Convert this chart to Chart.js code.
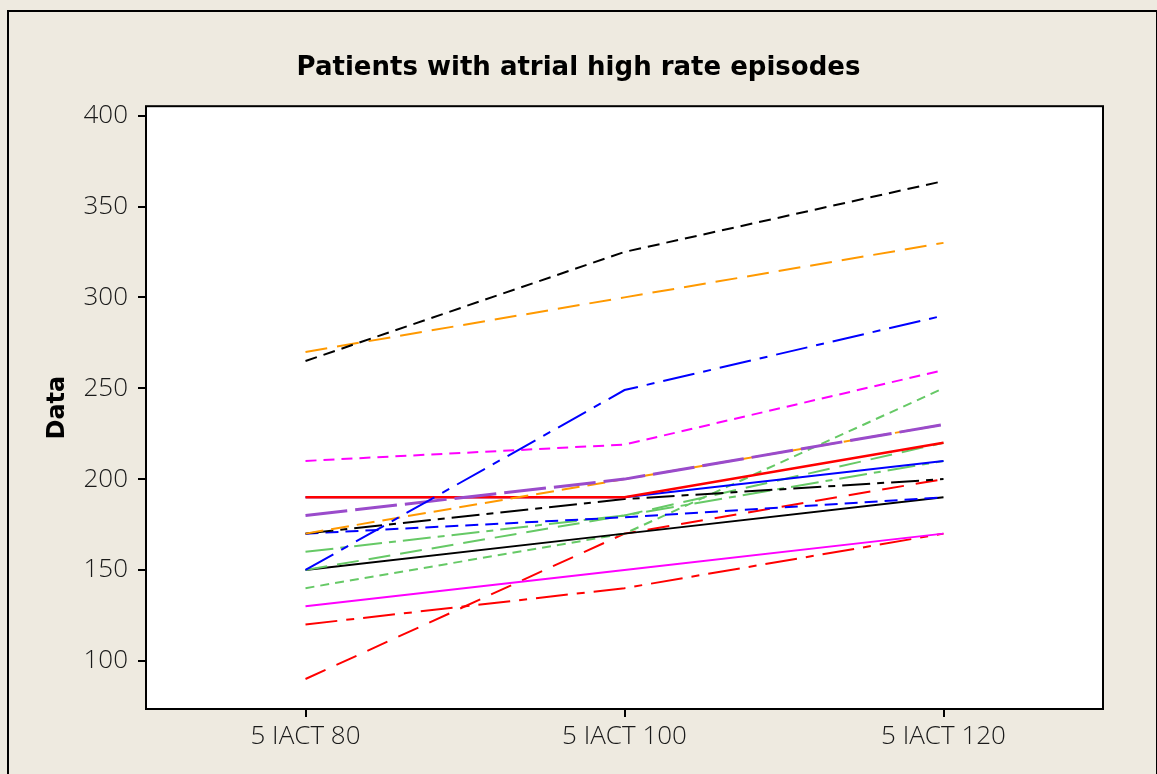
<!DOCTYPE html>
<html lang="en">
<head>
  <meta charset="UTF-8">
  <title>Patients with atrial high rate episodes</title>
  <script src="https://cdn.jsdelivr.net/npm/chart.js"></script>
  <style>
    html, body {
      margin: 0;
      padding: 0;
      background: #eeeae0;
      overflow: hidden;
    }
    .chart-box {
      position: relative;
      width: 1157px;
      height: 774px;
    }
  </style>
</head>
<body>
  <div class="chart-box">
    <canvas id="chart"></canvas>
  </div>

  <script>
    // Categories and tick values
    const categories = ["5 IACT 80", "5 IACT 100", "5 IACT 120"];
    const yTicks = [100, 150, 200, 250, 300, 350, 400];

    // One array per patient line
    const blackShortDash = [265, 325, 364];
    const orangeLongDash = [270, 300, 330];
    const blueDashDot = [150, 249, 290];
    const magentaDash = [210, 219, 260];
    const purpleLongDash = [180, 200, 230];
    const orangeDash = [170, 200, 230];
    const redSolid = [190, 190, 220];
    const blueSolid = [190, 190, 210];
    const blackDashDot = [170, 189, 200];
    const blueDash = [170, 179, 190];
    const greenDashDot = [160, 180, 210];
    const greenLongDash = [150, 180, 220];
    const blackSolid = [150, 170, 190];
    const greenShortDash = [140, 170, 250];
    const magentaSolid = [130, 150, 170];
    const redDashDot = [120, 140, 170];
    const redLongDash = [90, 170, 200];

    function line(data, color, dash, width) {
      return {
        data: data,
        borderColor: color,
        borderDash: dash,
        borderWidth: width || 2,
        pointRadius: 0,
        fill: false,
        tension: 0
      };
    }

    // first dataset is painted on top
    const datasets = [
      line(blackShortDash, "#000000", [12, 7]),
      line(orangeLongDash, "#ff9900", [22, 10]),
      line(blueDashDot, "#0000ff", [32, 9, 8, 9]),
      line(magentaDash, "#ff00ff", [11, 7]),
      line(purpleLongDash, "#9a4bcb", [42, 8], 3),
      line(orangeDash, "#ff9900", [18, 8]),
      line(redSolid, "#ff0000", [], 2.5),
      line(blueSolid, "#0000ff", []),
      line(blackDashDot, "#000000", [28, 7, 7, 7]),
      line(blueDash, "#0000ff", [13, 7]),
      line(greenDashDot, "#66c966", [28, 7, 7, 7]),
      line(greenLongDash, "#66c966", [22, 10]),
      line(blackSolid, "#000000", []),
      line(greenShortDash, "#66c966", [9, 6]),
      line(magentaSolid, "#ff00ff", []),
      line(redDashDot, "#ff0000", [32, 9, 8, 9]),
      line(redLongDash, "#ff0000", [22, 12])
    ];

    // Beige page, outer frame and white plot box with border
    const framePlugin = {
      id: "frame",
      beforeDraw(chart) {
        const ctx = chart.ctx;
        const a = chart.chartArea;
        ctx.save();
        ctx.fillStyle = "#eeeae0";
        ctx.fillRect(0, 0, chart.width, chart.height);
        ctx.strokeStyle = "#000000";
        ctx.lineWidth = 2;
        ctx.strokeRect(8, 11, chart.width - 8, chart.height + 20);
        ctx.fillStyle = "#ffffff";
        ctx.fillRect(a.left, a.top, a.right - a.left, a.bottom - a.top);
        ctx.restore();
      },
      afterDraw(chart) {
        const ctx = chart.ctx;
        const a = chart.chartArea;
        ctx.save();
        ctx.strokeStyle = "#000000";
        ctx.lineWidth = 2;
        ctx.strokeRect(a.left, a.top, a.right - a.left, a.bottom - a.top);
        ctx.restore();
      }
    };

    const tickFont = { family: "'Open Sans', 'Liberation Sans', sans-serif", size: 26, weight: "300" };

    new Chart(document.getElementById("chart"), {
      type: "line",
      data: { labels: categories, datasets: datasets },
      plugins: [framePlugin],
      options: {
        responsive: true,
        maintainAspectRatio: false,
        animation: false,
        layout: { padding: 0 },
        plugins: {
          legend: { display: false },
          tooltip: { enabled: false },
          title: {
            display: true,
            text: "Patients with atrial high rate episodes",
            color: "#000000",
            font: { family: "'DejaVu Sans', sans-serif", size: 26, weight: "bold", lineHeight: 1.2 },
            padding: { top: 53, bottom: 22 }
          }
        },
        scales: {
          x: {
            offset: true,
            grid: { display: true, drawOnChartArea: false, drawTicks: true, tickLength: 8, color: "#000000", lineWidth: 2 },
            border: { display: false },
            ticks: { color: "#1a1a1a", font: tickFont, padding: 4, maxRotation: 0 },
            afterFit(scale) { scale.height = 65; }
          },
          y: {
            min: 73.5,
            max: 405.2,
            grid: { display: true, drawOnChartArea: false, drawTicks: true, tickLength: 8, color: "#000000", lineWidth: 2 },
            border: { display: false },
            ticks: { color: "#1a1a1a", font: tickFont, padding: 10 },
            afterBuildTicks(scale) { scale.ticks = yTicks.map(v => ({ value: v })); },
            afterFit(scale) { scale.width = 146; },
            title: {
              display: true,
              text: "Data",
              color: "#000000",
              font: { family: "'DejaVu Sans', sans-serif", size: 24, weight: "bold", lineHeight: 1.2 },
              padding: { top: 43, bottom: 0 }
            }
          },
          yRight: {
            position: "right",
            display: true,
            grid: { display: false },
            border: { display: false },
            ticks: { display: false },
            afterFit(scale) { scale.width = 54; }
          }
        }
      }
    });
  </script>
</body>
</html>
